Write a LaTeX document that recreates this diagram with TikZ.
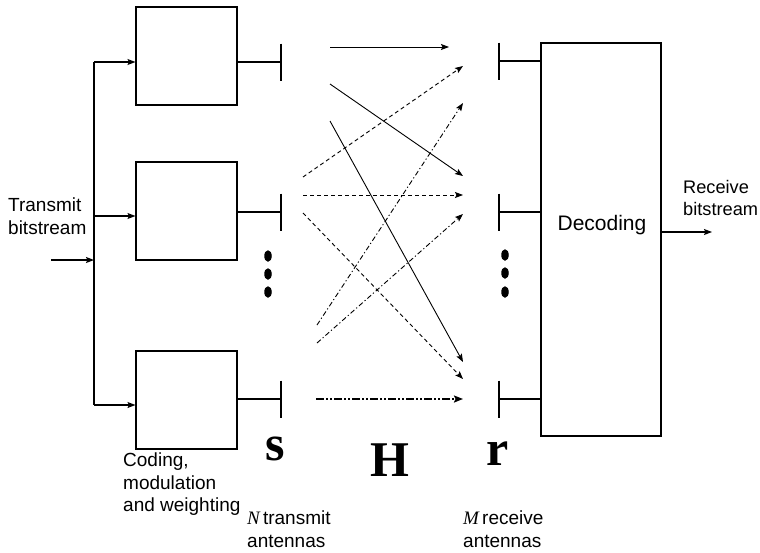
\documentclass[tikz,border=0pt]{standalone}
\usepackage{fontspec}
\setmainfont{Liberation Sans}
\newfontfamily\vecfont{Liberation Serif}
\usetikzlibrary{arrows.meta,calc,shapes.geometric}
\tikzset{
  blk/.style={draw, line width=1.1pt, minimum width=101pt, minimum height=98pt, inner sep=0pt},
  wire/.style={line width=1.1pt},
  tip/.style={-{Stealth[length=8pt,width=6pt,inset=1.5pt]}},
  chan/.style={line width=0.9pt, tip},
  dsh/.style={chan, dash pattern=on 4pt off 3pt},
  dshdot/.style={chan, dash pattern=on 5pt off 2.5pt on 1.2pt off 2.5pt},
  dshdotdot/.style={line width=1.8pt, -{Stealth[length=9pt,width=7pt,inset=1.5pt]}, dash pattern=on 8pt off 2pt on 2pt off 2pt on 2pt off 2pt},
  lbl/.style={inner sep=0pt, align=left, font=\fontsize{19}{22.5}\selectfont},
  vec/.style={inner sep=0pt, font=\vecfont\bfseries\fontsize{50}{50}\selectfont},
  dotmark/.style={fill=black, ellipse, minimum width=7.5pt, minimum height=11.5pt, inner sep=0pt}
}
\begin{document}
\begin{tikzpicture}[x=1pt,y=-1pt]
\useasboundingbox (0,0) rectangle (760,552);

% coding boxes
\node[blk] (b1) at (186.5,56) {};
\node[blk] (b2) at (186.5,211) {};
\node[blk] (b3) at (186.5,400) {};

% decoding box
\node[draw, line width=1.1pt, minimum width=120pt, minimum height=393pt, inner sep=0pt] (dec) at (601,239.5) {};
\node[inner sep=0pt, font=\fontsize{21}{24}\selectfont] (dectxt) at (602,225) {Decoding};

% trunk
\coordinate (t1) at (94,62);
\coordinate (t2) at (94,216);
\coordinate (t3) at (94,405);
\coordinate (tin) at (94,260);
\coordinate (src) at (51,260);
\draw[wire] (t1) -- (t3);
\draw[wire,tip] (src) -- (tin);
\draw[wire,tip] (t1) -- (t1 -| b1.west);
\draw[wire,tip] (t2) -- (t2 -| b2.west);
\draw[wire,tip] (t3) -- (t3 -| b3.west);

% transmit antennas
\coordinate (tx1) at (281,62);
\coordinate (tx2) at (281,212);
\coordinate (tx3) at (281,399);
\foreach \a/\b in {tx1/b1,tx2/b2,tx3/b3}{
  \draw[wire] (\a -| \b.east) -- (\a);
  \draw[wire] (\a) ++(0,-18.5) -- ++(0,37);
}

% receive antennas
\coordinate (rx1) at (499,61);
\coordinate (rx2) at (499,212);
\coordinate (rx3) at (499,399);
\foreach \a in {rx1,rx2,rx3}{
  \draw[wire] (\a) -- (\a -| dec.west);
  \draw[wire] (\a) ++(0,-18.5) -- ++(0,37);
}

% dots
\node[dotmark] (ld1) at (268,256) {};
\node[dotmark] (ld2) at (268,274) {};
\node[dotmark] (ld3) at (268,292) {};
\node[dotmark] (rd1) at (505,255) {};
\node[dotmark] (rd2) at (505,273) {};
\node[dotmark] (rd3) at (505,292) {};

% channel paths
\coordinate (s1) at (330,47);  \coordinate (e1) at (449,47);
\coordinate (s2) at (303,177); \coordinate (e2) at (463,66);
\coordinate (s3) at (330,84);  \coordinate (e3) at (463,176);
\coordinate (s4) at (330,121); \coordinate (e4) at (463,362);
\coordinate (s5) at (317,325); \coordinate (e5) at (463,103);
\coordinate (s6) at (303,195); \coordinate (e6) at (463,195);
\coordinate (s7) at (303,213); \coordinate (e7) at (463,379);
\coordinate (s8) at (317,343); \coordinate (e8) at (463,214);
\coordinate (s9) at (316,399); \coordinate (e9) at (463,399);
\draw[chan] (s1) -- (e1);
\draw[dsh] (s2) -- (e2);
\draw[chan] (s3) -- (e3);
\draw[chan] (s4) -- (e4);
\draw[dshdot] (s5) -- (e5);
\draw[dsh] (s6) -- (e6);
\draw[dsh] (s7) -- (e7);
\draw[dshdot] (s8) -- (e8);
\draw[dshdotdot] (s9) -- (e9);

% output
\coordinate (out) at (712,232);
\draw[wire,tip] (out -| dec.east) -- (out);

% labels
\node[lbl, anchor=north west] (tbs) at (8,198) {Transmit\\bitstream};
\node[lbl, anchor=north west, font=\fontsize{18.2}{22}\selectfont] (rbs) at (683,180) {Receive\\bitstream};
\node[lbl, anchor=north west] (cmw) at (123,453) {Coding,\\modulation\\and weighting};
\node[lbl, anchor=north west] (ntx) at (247,511) {{\vecfont\itshape N}\,transmit\\antennas};
\node[lbl, anchor=north west] (mrx) at (463,511) {{\vecfont\itshape M}\,receive\\antennas};
\node[vec, anchor=base] (svec) at (275,460) {s};
\node[vec, anchor=base] (hmat) at (390,476) {H};
\node[vec, anchor=base] (rvec) at (498,465) {r};
\end{tikzpicture}
\end{document}
